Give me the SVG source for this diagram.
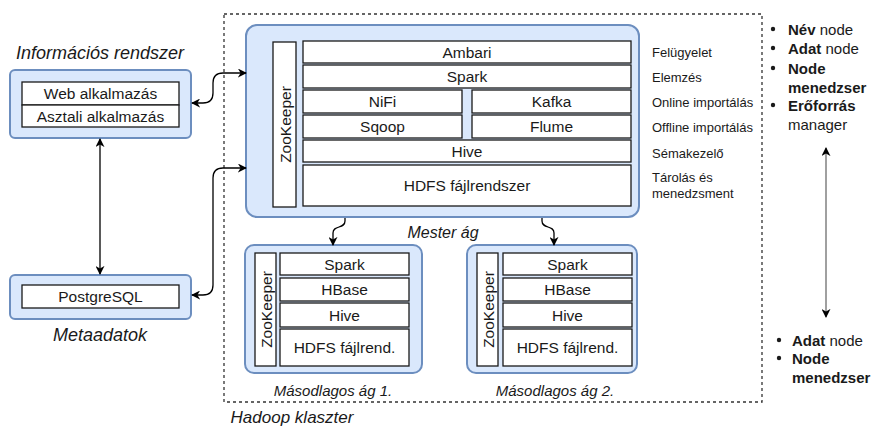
<svg xmlns="http://www.w3.org/2000/svg" width="875" height="427" viewBox="0 0 875 427">
<defs>
<marker id="arr" viewBox="0 0 10 10" refX="9" refY="5" markerWidth="9" markerHeight="9" markerUnits="userSpaceOnUse" orient="auto-start-reverse">
<path d="M0,0 L10,5 L0,10 L3,5 z" fill="#000"/>
</marker>
<style>
text{font-family:"Liberation Sans",Arial,sans-serif;fill:#1a1a1a}
.box{fill:#dae8fc;stroke:#6c8ebf;stroke-width:2}
.cell{fill:#fff;stroke:#1a1a1a;stroke-width:1.3}
.t{font-size:15.5px;text-anchor:middle;dominant-baseline:central}
.side{font-size:13px;dominant-baseline:central}
.lbl{font-style:italic;text-anchor:middle;dominant-baseline:central}
.bul{font-size:15px;dominant-baseline:central}
.b{font-weight:bold}
.con{fill:none;stroke:#000;stroke-width:1.3}
</style>
</defs>
<rect width="875" height="427" fill="#fff"/>

<g id="cluster">
<rect x="224" y="14" width="538" height="388" fill="none" stroke="#333" stroke-width="1.3" stroke-dasharray="3,3"/>
<text class="lbl" x="292" y="417" font-size="17">Hadoop klaszter</text>
</g>

<g id="info">
<text class="lbl" x="100" y="53" font-size="18">Információs rendszer</text>
<rect class="box" x="10" y="70" width="181" height="68" rx="5"/>
<rect class="cell" x="22" y="82" width="157" height="23"/>
<rect class="cell" x="22" y="105" width="157" height="22"/>
<text class="t" x="100.5" y="93.5">Web alkalmazás</text>
<text class="t" x="100.5" y="116">Asztali alkalmazás</text>
</g>

<g id="meta">
<rect class="box" x="10" y="275" width="181" height="44" rx="5"/>
<rect class="cell" x="22" y="285" width="157" height="23"/>
<text class="t" x="100.5" y="296.5">PostgreSQL</text>
<text class="lbl" x="100" y="335" font-size="18">Metaadatok</text>
</g>

<g id="master">
<rect class="box" x="246" y="25" width="393" height="192" rx="11"/>
<rect class="cell" x="273" y="42" width="23" height="165"/>
<text class="t" transform="translate(285,124.5) rotate(-90)">ZooKeeper</text>
<rect class="cell" x="303" y="41" width="328" height="22"/>
<text class="t" x="467" y="52">Ambari</text>
<rect class="cell" x="303" y="65" width="328" height="23"/>
<text class="t" x="467" y="76.5">Spark</text>
<rect class="cell" x="303" y="90" width="159" height="23"/>
<text class="t" x="382.5" y="101.5">NiFi</text>
<rect class="cell" x="472" y="90" width="159" height="23"/>
<text class="t" x="551.5" y="101.5">Kafka</text>
<rect class="cell" x="303" y="115" width="159" height="23"/>
<text class="t" x="382.5" y="126.5">Sqoop</text>
<rect class="cell" x="472" y="115" width="159" height="23"/>
<text class="t" x="551.5" y="126.5">Flume</text>
<rect class="cell" x="303" y="140" width="328" height="22"/>
<text class="t" x="467" y="151">Hive</text>
<rect class="cell" x="303" y="165" width="328" height="41"/>
<text class="t" x="467" y="185.5">HDFS fájlrendszer</text>
<text class="lbl" x="443" y="232" font-size="16">Mester ág</text>
</g>

<g id="roles">
<text class="side" x="652" y="52">Felügyelet</text>
<text class="side" x="652" y="77">Elemzés</text>
<text class="side" x="652" y="102">Online importálás</text>
<text class="side" x="652" y="127">Offline importálás</text>
<text class="side" x="652" y="153">Sémakezelő</text>
<text class="side" x="652" y="177">Tárolás és</text>
<text class="side" x="652" y="193">menedzsment</text>
</g>

<g id="slave1">
<rect class="box" x="245" y="245" width="177" height="128" rx="9"/>
<rect class="cell" x="255" y="253" width="21" height="113"/>
<text class="t" transform="translate(266,309.5) rotate(-90)">ZooKeeper</text>
<rect class="cell" x="280" y="253" width="129" height="22"/>
<text class="t" x="344.5" y="264">Spark</text>
<rect class="cell" x="280" y="278" width="129" height="23"/>
<text class="t" x="344.5" y="289.5">HBase</text>
<rect class="cell" x="280" y="303" width="129" height="24"/>
<text class="t" x="344.5" y="315">Hive</text>
<rect class="cell" x="280" y="329" width="129" height="37"/>
<text class="t" x="344.5" y="347.5">HDFS fájlrend.</text>
<text class="lbl" x="333" y="390" font-size="15">Másodlagos ág 1.</text>
</g>

<g id="slave2">
<rect class="box" x="467" y="245" width="170" height="128" rx="9"/>
<rect class="cell" x="477" y="253" width="21" height="113"/>
<text class="t" transform="translate(488,309.5) rotate(-90)">ZooKeeper</text>
<rect class="cell" x="503" y="253" width="129" height="22"/>
<text class="t" x="567.5" y="264">Spark</text>
<rect class="cell" x="503" y="278" width="129" height="23"/>
<text class="t" x="567.5" y="289.5">HBase</text>
<rect class="cell" x="503" y="303" width="129" height="24"/>
<text class="t" x="567.5" y="315">Hive</text>
<rect class="cell" x="503" y="329" width="129" height="37"/>
<text class="t" x="567.5" y="347.5">HDFS fájlrend.</text>
<text class="lbl" x="555" y="390" font-size="15">Másodlagos ág 2.</text>
</g>

<g id="masterRoles">
<circle cx="773" cy="29" r="2.2" fill="#1a1a1a"/>
<text class="bul" x="788" y="29"><tspan class="b">Név</tspan> node</text>
<circle cx="773" cy="48" r="2.2" fill="#1a1a1a"/>
<text class="bul" x="788" y="48"><tspan class="b">Adat</tspan> node</text>
<circle cx="773" cy="68" r="2.2" fill="#1a1a1a"/>
<text class="bul b" x="788" y="68">Node</text>
<text class="bul b" x="788" y="87">menedzser</text>
<circle cx="773" cy="105" r="2.2" fill="#1a1a1a"/>
<text class="bul b" x="788" y="105">Erőforrás</text>
<text class="bul" x="788" y="124">manager</text>
</g>

<g id="slaveRoles">
<circle cx="779" cy="340" r="2.2" fill="#1a1a1a"/>
<text class="bul" x="792" y="340"><tspan class="b">Adat</tspan> node</text>
<circle cx="779" cy="358" r="2.2" fill="#1a1a1a"/>
<text class="bul b" x="792" y="358">Node</text>
<text class="bul b" x="792" y="377">menedzser</text>
</g>

<g id="connectors">
<path class="con" d="M100,139 V274" marker-start="url(#arr)" marker-end="url(#arr)"/>
<path class="con" d="M192,103 H203 Q213,103 213,93 V83 Q213,73 223,73 H246" marker-start="url(#arr)" marker-end="url(#arr)"/>
<path class="con" d="M246,168 H223 Q213,168 213,178 V285 Q213,295 203,295 H192" marker-start="url(#arr)" marker-end="url(#arr)"/>
<path class="con" d="M345,218 V221 C345,229 333,225 333,233 V245" marker-end="url(#arr)"/>
<path class="con" d="M542,218 V221 C542,229 554,225 554,233 V245" marker-end="url(#arr)"/>
<path d="M826,148 V317" fill="none" stroke="#808080" stroke-width="1.5" marker-start="url(#arr)" marker-end="url(#arr)"/>
</g>
</svg>
